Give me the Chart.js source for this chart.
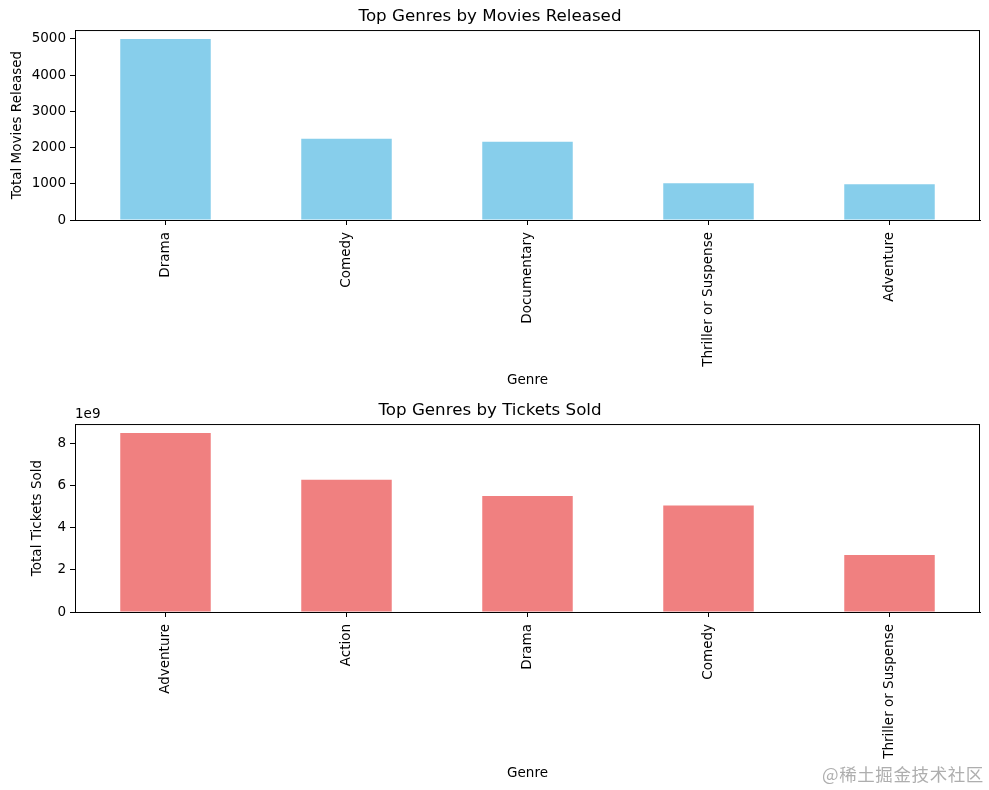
<!DOCTYPE html>
<html>
<head>
<meta charset="utf-8">
<script src="https://cdn.jsdelivr.net/npm/chart.js@4.4.0/dist/chart.umd.min.js"></script>
<style>
  html, body { margin: 0; padding: 0; background: #fff; }
  #wrap { position: relative; width: 989px; height: 790px; overflow: hidden; }
  canvas { position: absolute; left: 0; }
  #c1 { top: 0; }
  #c2 { top: 395px; }
  #wm { position: absolute; left: 822px; top: 761px; font-family: "Noto Sans CJK SC", sans-serif; font-size: 17.5px; letter-spacing: 0.6px; color: rgba(140,140,140,0.7); white-space: nowrap; }
</style>
</head>
<body>
<div id="wrap">
  <canvas id="c1" width="989" height="395"></canvas>
  <canvas id="c2" width="989" height="395"></canvas>
  <div id="wm">@稀土掘金技术社区</div>
</div>
<script>
// ---- data ----
const moviesGenres = ["Drama", "Comedy", "Documentary", "Thriller or Suspense", "Adventure"];
const moviesReleased = [4995, 2240, 2160, 1015, 990];
const moviesTicks = [0, 1000, 2000, 3000, 4000, 5000];

const ticketsGenres = ["Adventure", "Action", "Drama", "Comedy", "Thriller or Suspense"];
const ticketsSold = [8.48e9, 6.27e9, 5.49e9, 5.05e9, 2.70e9];
const ticketsTicks = [0, 2e9, 4e9, 6e9, 8e9];

const FONT = "'DejaVu Sans', sans-serif";
const TICK_PX = 13.5;

const boxPlugin = {
  id: 'box',
  afterDraw(chart, args, opts) {
    const {ctx, chartArea: a} = chart;
    ctx.save();
    ctx.strokeStyle = '#000';
    ctx.lineWidth = 1;
    ctx.strokeRect(a.left + 0.5, a.top + 0.5, a.right - a.left - 1, a.bottom - a.top);
    if (opts && opts.offsetText) {
      ctx.fillStyle = '#000';
      ctx.font = TICK_PX + 'px ' + FONT;
      ctx.textAlign = 'left';
      ctx.textBaseline = 'bottom';
      ctx.fillText(opts.offsetText, a.left, a.top - 3);
    }
    ctx.restore();
  }
};

function makeChart(id, labels, values, tickVals, color, title, yTitle, cfg) {
  const maxV = Math.max(...values) * 1.05;
  return new Chart(document.getElementById(id), {
    type: 'bar',
    data: {
      labels: labels,
      datasets: [{
        data: values,
        backgroundColor: color,
        borderWidth: 0,
        barPercentage: 0.5,
        categoryPercentage: 1.0
      }]
    },
    options: {
      responsive: false,
      animation: false,
      devicePixelRatio: 1,
      layout: { padding: { left: 0, right: 9, top: 0, bottom: 0 } },
      plugins: {
        legend: { display: false },
        tooltip: { enabled: false },
        title: {
          display: true,
          text: title,
          color: '#000',
          font: { family: FONT, size: 16.7, weight: 'normal', lineHeight: 1.2 },
          padding: { top: cfg.titleTop, bottom: cfg.titleBottom }
        },
        box: { offsetText: cfg.offsetText }
      },
      scales: {
        x: {
          type: 'category',
          offset: true,
          grid: { display: true, offset: false, drawOnChartArea: false, drawTicks: true, tickLength: 5, color: '#000' },
          border: { display: true, color: '#000' },
          ticks: {
            color: '#000',
            font: { family: FONT, size: TICK_PX },
            minRotation: 90, maxRotation: 90,
            padding: 7,
            autoSkip: false
          },
          title: {
            display: true, text: 'Genre', color: '#000',
            font: { family: FONT, size: TICK_PX, lineHeight: 1.2 },
            padding: { top: 0, bottom: cfg.xTitleBottom }
          },
          afterFit(scale) { scale.height = cfg.xHeight; }
        },
        y: {
          min: 0,
          max: maxV,
          afterBuildTicks(scale) { scale.ticks = tickVals.map(v => ({ value: v })); },
          grid: { display: true, drawOnChartArea: false, drawTicks: true, tickLength: 5, color: '#000' },
          border: { display: true, color: '#000' },
          ticks: {
            color: '#000',
            font: { family: FONT, size: TICK_PX },
            padding: 4,
            callback: cfg.tickFmt
          },
          title: {
            display: true, text: yTitle, color: '#000',
            font: { family: FONT, size: TICK_PX, lineHeight: 1.2 },
            padding: { top: cfg.yTitleTop, bottom: 0 }
          },
          afterFit(scale) { scale.width = 75; }
        }
      }
    },
    plugins: [boxPlugin]
  });
}

makeChart('c1', moviesGenres, moviesReleased, moviesTicks, '#87CEEB',
  'Top Genres by Movies Released', 'Total Movies Released',
  { titleTop: 7, titleBottom: 3, xHeight: 175, xTitleBottom: 6, yTitleTop: 9,
    tickFmt: v => String(v), offsetText: null });

makeChart('c2', ticketsGenres, ticketsSold, ticketsTicks, '#F08080',
  'Top Genres by Tickets Sold', 'Total Tickets Sold',
  { titleTop: 6, titleBottom: 3, xHeight: 178, xTitleBottom: 8, yTitleTop: 29,
    tickFmt: v => String(Math.round(v / 1e9)), offsetText: '1e9' });
</script>
</body>
</html>
